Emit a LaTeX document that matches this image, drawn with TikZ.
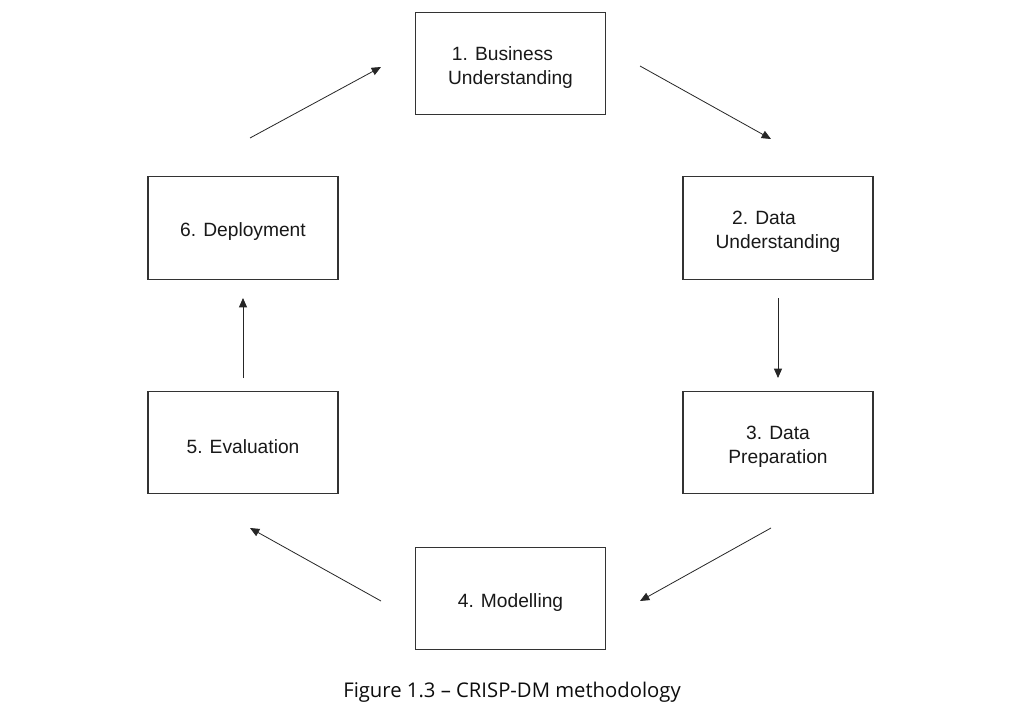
\documentclass[tikz,border=0pt]{standalone}
\usepackage{fontspec}
\setmainfont{Liberation Sans}
\newfontfamily\capfont{Open Sans}
\usetikzlibrary{arrows.meta}
\begin{document}
\begin{tikzpicture}[x=0.75pt,y=-0.75pt,
  phase/.style={draw=black!80,line width=0.8pt,minimum width=142.5pt,minimum height=77pt,
    inner sep=0pt},
  phasetext/.style={inner sep=0pt,align=center,font=\fontsize{14.4}{18}\selectfont,text=black!90,yshift=-3pt},
  flow/.style={line width=0.6pt,draw=black!85,-{Triangle[length=7pt,width=6pt]}}]
\useasboundingbox (0,0) rectangle (1022,721);
\fill[white] (0,0) rectangle (1022,721);
\node[phase] (b1) at (510.5,63.5) {};
\node[phase] (b2) at (778,228) {};
\node[phase] (b3) at (778,442.5) {};
\node[phase] (b4) at (510.5,598.5) {};
\node[phase] (b5) at (243,442.5) {};
\node[phase] (b6) at (243,228) {};
\node[phasetext] (t1) at (b1.center) {1. Business\hspace*{12pt}\\Understanding};
\node[phasetext] (t2) at (b2.center) {2. Data\hspace*{21pt}\\Understanding};
\node[phasetext] (t3) at (b3.center) {3. Data\\Preparation};
\node[phasetext] (t4) at (b4.center) {4. Modelling};
\node[phasetext] (t5) at (b5.center) {5. Evaluation};
\node[phasetext] (t6) at (b6.center) {6. Deployment};
\coordinate (a1s) at (250,138); \coordinate (a1e) at (381,67);
\coordinate (a2s) at (640,66); \coordinate (a2e) at (771,139);
\coordinate (a3s) at (778,298); \coordinate (a3e) at (778,378);
\coordinate (a4s) at (771,528); \coordinate (a4e) at (640,601);
\coordinate (a5s) at (381,601); \coordinate (a5e) at (250,528);
\coordinate (a6s) at (243,378); \coordinate (a6e) at (243,298);
\draw[flow] (a1s) -- (a1e);
\draw[flow] (a2s) -- (a2e);
\draw[flow] (a3s) -- (a3e);
\draw[flow] (a4s) -- (a4e);
\draw[flow] (a5s) -- (a5e);
\draw[flow] (a6s) -- (a6e);
\node[font=\capfont\fontsize{15.2}{18}\selectfont,text=black!95] (cap) at (512,692) {Figure 1.3 – CRISP-DM methodology};
\end{tikzpicture}
\end{document}
